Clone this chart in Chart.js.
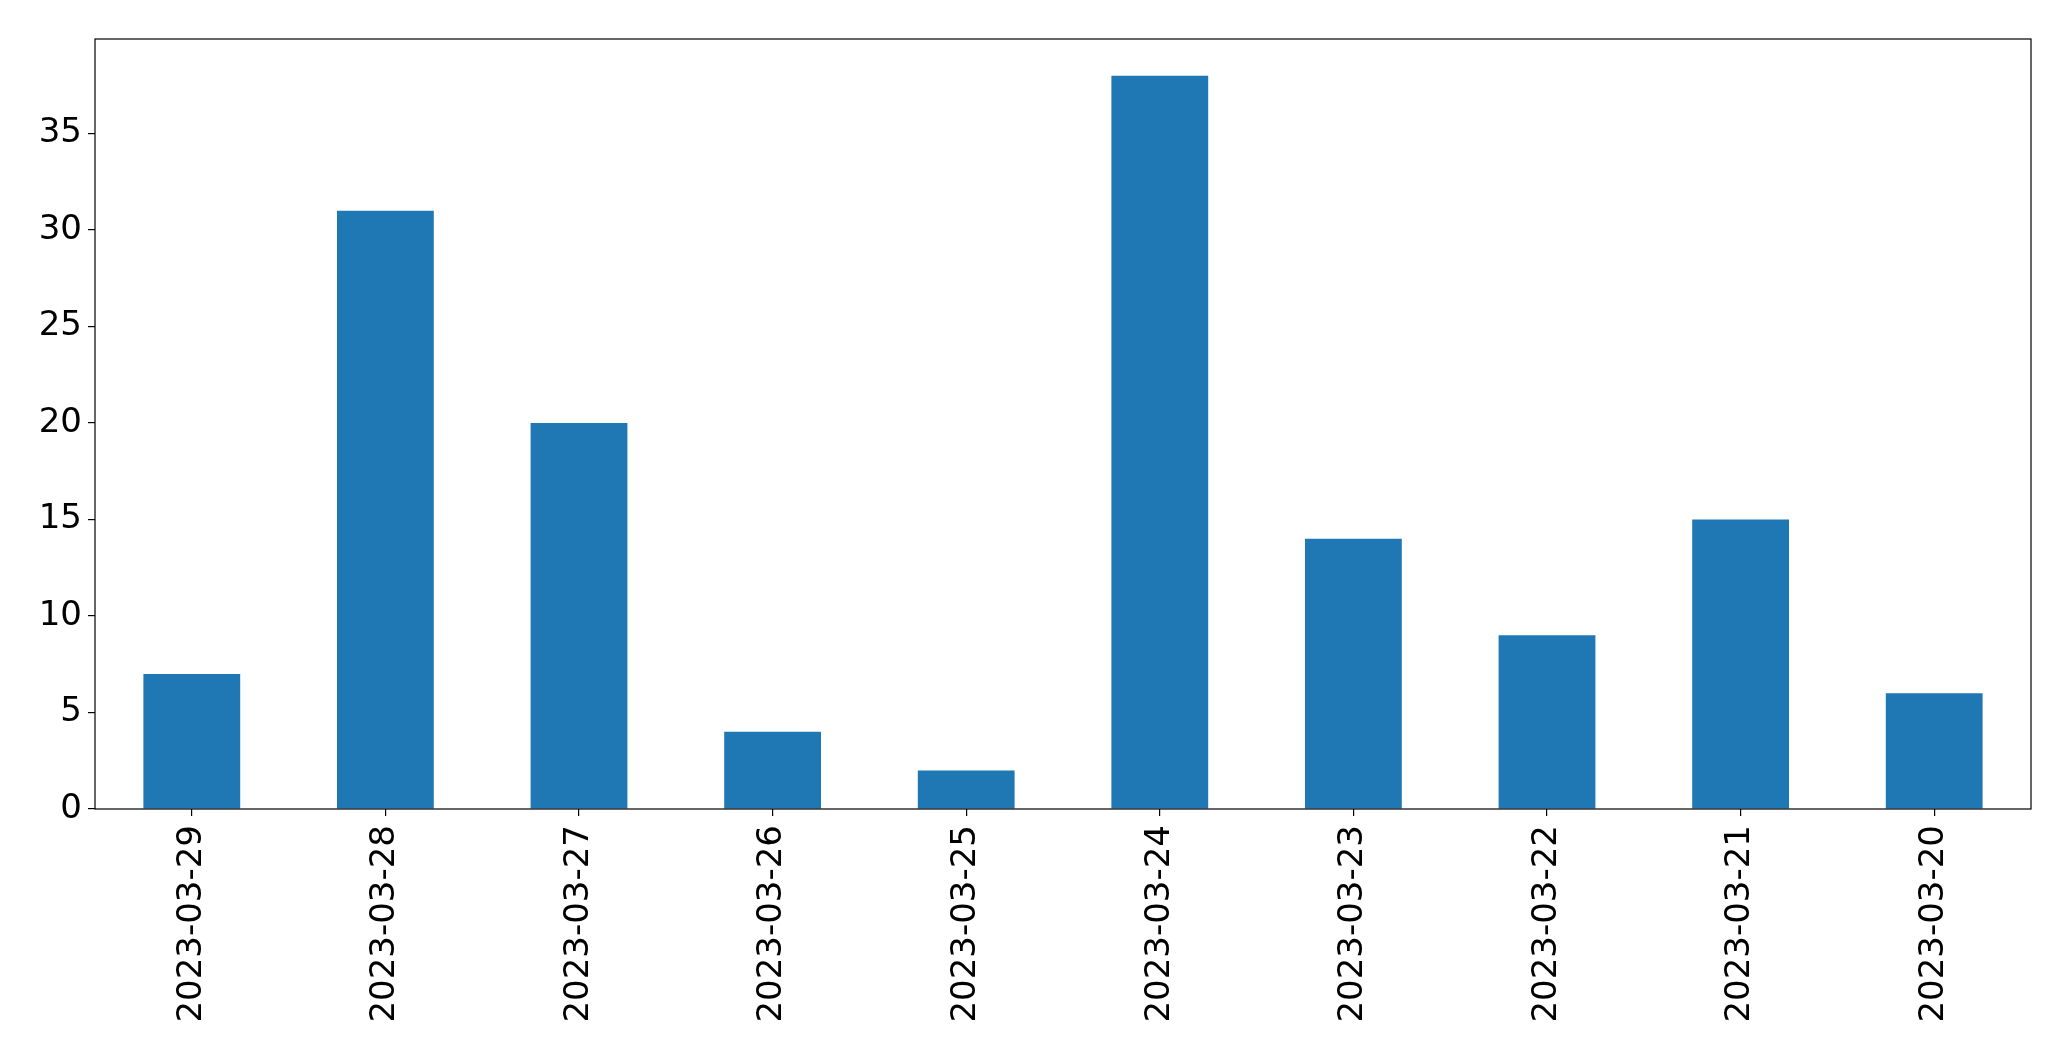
<!DOCTYPE html>
<html>
<head>
<meta charset="utf-8">
<script src="https://cdn.jsdelivr.net/npm/chart.js@4/dist/chart.umd.min.js"></script>
<style>
  html, body { margin: 0; padding: 0; background: #ffffff; }
  #wrap { width: 2071px; height: 1061px; }
</style>
</head>
<body>
<div id="wrap"><canvas id="barChart" width="2071" height="1061"></canvas></div>
<script>
const dates = [
  "2023-03-29", "2023-03-28", "2023-03-27", "2023-03-26", "2023-03-25",
  "2023-03-24", "2023-03-23", "2023-03-22", "2023-03-21", "2023-03-20",
];
const counts = [7, 31, 20, 4, 2, 38, 14, 9, 15, 6];
const yTicks = [0, 5, 10, 15, 20, 25, 30, 35];

// box around the plot area, like matplotlib's spines
const frameBox = {
  id: "frameBox",
  afterDatasetsDraw(chart) {
    const { ctx, chartArea } = chart;
    ctx.save();
    ctx.strokeStyle = "#000000";
    ctx.lineWidth = 1.2;
    ctx.strokeRect(chartArea.left, chartArea.top,
      chartArea.right - chartArea.left, chartArea.bottom - chartArea.top);
    ctx.restore();
  },
};

const tickFont = { family: "'DejaVu Sans', sans-serif", size: 34 };

new Chart(document.getElementById("barChart"), {
  type: "bar",
  data: {
    labels: dates,
    datasets: [{
      data: counts,
      backgroundColor: "#1f77b4",
      borderWidth: 0,
      categoryPercentage: 1.0,
      barPercentage: 0.5,
    }],
  },
  options: {
    responsive: false,
    animation: false,
    layout: { padding: { top: 39, right: 40, left: 0, bottom: 0 } },
    plugins: {
      legend: { display: false },
      tooltip: { enabled: false },
    },
    scales: {
      x: {
        grid: {
          display: true,
          offset: false,
          drawOnChartArea: false,
          drawTicks: true,
          tickLength: 7,
          color: "#000000",
          lineWidth: 1.2,
        },
        border: { display: false },
        ticks: {
          color: "#000000",
          font: tickFont,
          minRotation: 90,
          maxRotation: 90,
          padding: 9,
          autoSkip: false,
        },
        afterFit(scale) { scale.height = 252; },
      },
      y: {
        min: 0,
        max: 39.9,
        grid: {
          display: true,
          drawOnChartArea: false,
          drawTicks: true,
          tickLength: 7,
          color: "#000000",
          lineWidth: 1.2,
        },
        border: { display: false },
        ticks: {
          color: "#000000",
          font: tickFont,
          stepSize: 5,
          includeBounds: false,
          padding: 6,
        },
        afterBuildTicks(scale) {
          scale.ticks = yTicks.map((v) => ({ value: v }));
        },
        afterFit(scale) { scale.width = 95; },
      },
    },
  },
  plugins: [frameBox],
});
</script>
</body>
</html>
